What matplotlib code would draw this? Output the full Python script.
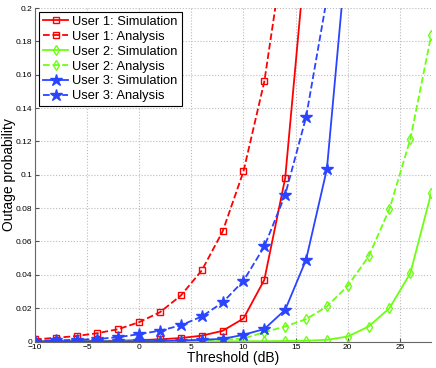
import matplotlib
matplotlib.use('Agg')
import matplotlib.pyplot as plt
import numpy as np

##########
# data

threshold = np.arange(-10, 30, 2)

u1_sim = [0.0001, 0.0001, 0.0002, 0.0003, 0.0005, 0.0008, 0.0013, 0.0021, 0.0035, 0.0064,
          0.0138, 0.037, 0.098, 0.235, None, None, None, None, None, None]
u1_ana = [0.0013, 0.0022, 0.0033, 0.005, 0.0074, 0.0116, 0.0176, 0.0276, 0.0426, 0.066,
          0.102, 0.156, 0.24, None, None, None, None, None, None, None]
u2_sim = [0.0, 0.0, 0.0, 0.0, 0.0, 0.0, 0.0, 0.0, 0.0001, 0.0001,
          0.0002, 0.0002, 0.0003, 0.0005, 0.001, 0.003, 0.009, 0.020, 0.041, 0.089]
u2_ana = [0.0, 0.0, 0.0, 0.0001, 0.0001, 0.0002, 0.0003, 0.0004, 0.0006, 0.001,
          0.0018, 0.0056, 0.009, 0.0134, 0.021, 0.0334, 0.051, 0.0795, 0.1215, 0.1837]
u3_sim = [0.0, 0.0, 0.0001, 0.0001, 0.0001, 0.0002, 0.0003, 0.0006, 0.001, 0.0016,
          0.004, 0.0075, 0.019, 0.049, 0.1035, 0.241, None, None, None, None]
u3_ana = [0.0005, 0.0007, 0.001, 0.0015, 0.0026, 0.0044, 0.0065, 0.0097, 0.015, 0.0234,
          0.0364, 0.057, 0.088, 0.1345, 0.206, None, None, None, None, None]

labels = ['User 1: Simulation', 'User 1: Analysis',
          'User 2: Simulation', 'User 2: Analysis',
          'User 3: Simulation', 'User 3: Analysis']


def clean(vals):
    return np.array([np.nan if v is None else v for v in vals], dtype=float)


##########
# figure

plt.rcParams['font.family'] = ['Liberation Sans', 'DejaVu Sans']
fig = plt.figure(figsize=(4.36, 3.68), dpi=100)
ax = fig.add_axes([0.080, 0.072, 0.909, 0.906])

red = '#ff0000'
green = '#6cff12'
blue = '#2a44ff'

ax.plot(threshold, clean(u1_sim), '-', color=red, lw=1.3, marker='s', ms=4,
        mfc='none', mew=1.0, label=labels[0])
ax.plot(threshold, clean(u1_ana), '--', color=red, lw=1.3, marker='s', ms=4,
        mfc='none', mew=1.0, label=labels[1])
ax.plot(threshold, clean(u2_sim), '-', color=green, lw=1.3, marker='d', ms=5,
        mfc='none', mew=1.0, label=labels[2])
ax.plot(threshold, clean(u2_ana), '--', color=green, lw=1.3, marker='d', ms=5,
        mfc='none', mew=1.0, label=labels[3])
ax.plot(threshold, clean(u3_sim), '-', color=blue, lw=1.3, marker='*', ms=9,
        label=labels[4])
ax.plot(threshold, clean(u3_ana), '--', color=blue, lw=1.3, marker='*', ms=9,
        label=labels[5])

##########
# axes

ax.set_xlim(-10, 28)
ax.set_ylim(0, 0.2)
ax.set_xticks([-10, -5, 0, 5, 10, 15, 20, 25])
ax.set_yticks(np.arange(0, 0.201, 0.02))
ax.set_yticklabels(['0', '0.02', '0.04', '0.06', '0.08', '0.1', '0.12', '0.14',
                    '0.16', '0.18', '0.2'])
ax.tick_params(labelsize=6, direction='in', length=3, color='#555555', pad=2)
ax.grid(True, linestyle=':', color='#bbbbbb', linewidth=0.8)
for side in ['top', 'right']:
    ax.spines[side].set_visible(False)
for side in ['left', 'bottom']:
    ax.spines[side].set_color('#666666')

ax.set_xlabel('Threshold (dB)', fontsize=10, labelpad=0)
ax.set_ylabel('Outage probability', fontsize=10, labelpad=0)

leg = ax.legend(loc='upper left', fontsize=9.3, frameon=True, fancybox=False,
                edgecolor='black', framealpha=1, labelspacing=0.22,
                handlelength=2.0, handletextpad=0.3, borderpad=0.3,
                borderaxespad=0.3)
leg.get_frame().set_linewidth(0.8)

fig.savefig('out.png', dpi=100)
